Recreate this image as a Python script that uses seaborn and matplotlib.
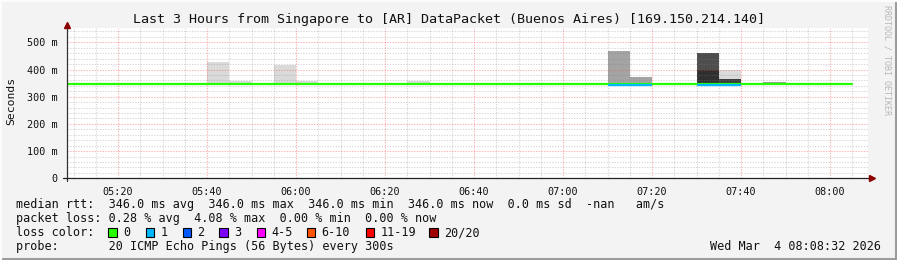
import matplotlib
matplotlib.use("Agg")
import matplotlib.pyplot as plt
from matplotlib.lines import Line2D
from matplotlib.patches import Rectangle
import seaborn as sns
import pandas as pd
import numpy as np

# ---------------- data ----------------
TITLE = "Last 3 Hours from Singapore to [AR] DataPacket (Buenos Aires) [169.150.214.140]"
view_start = "05:08:32"
view_end = "08:08:32"
x_tick_labels = ["05:20", "05:40", "06:00", "06:20", "06:40", "07:00", "07:20", "07:40", "08:00"]
y_tick_values = [0.0, 0.1, 0.2, 0.3, 0.4, 0.5]
y_tick_labels = ["0", "100 m", "200 m", "300 m", "400 m", "500 m"]

# 5-minute RRD steps (start of each step) and the median RTT (seconds) / loss count per step
bin_starts = ["05:05", "05:10", "05:15", "05:20", "05:25", "05:30", "05:35", "05:40", "05:45",
              "05:50", "05:55", "06:00", "06:05", "06:10", "06:15", "06:20", "06:25", "06:30",
              "06:35", "06:40", "06:45", "06:50", "06:55", "07:00", "07:05", "07:10", "07:15",
              "07:20", "07:25", "07:30", "07:35", "07:40", "07:45", "07:50", "07:55", "08:00"]
median_rtt = [0.346, 0.346, 0.346, 0.346, 0.346, 0.346, 0.346, 0.346, 0.346,
              0.346, 0.346, 0.346, 0.346, 0.346, 0.346, 0.346, 0.346, 0.346,
              0.346, 0.346, 0.346, 0.346, 0.346, 0.346, 0.346, 0.346, 0.346,
              0.346, 0.346, 0.346, 0.346, 0.346, 0.346, 0.346, 0.346, 0.346]
loss_count = [0, 0, 0, 0, 0, 0, 0, 0, 0,
              0, 0, 0, 0, 0, 0, 0, 0, 0,
              0, 0, 0, 0, 0, 0, 0, 1, 1,
              0, 0, 1, 1, 0, 0, 0, 0, 0]

# smoke layers (spread of the 20 pings per step)
smoke_bin = ["05:40", "05:45", "05:55", "06:00", "06:25", "07:10", "07:15",
             "07:30", "07:30", "07:35", "07:35", "07:40", "07:45"]
smoke_low = [0.346, 0.346, 0.346, 0.346, 0.346, 0.346, 0.346,
             0.400, 0.346, 0.367, 0.346, 0.346, 0.346]
smoke_high = [0.428, 0.359, 0.416, 0.359, 0.359, 0.467, 0.372,
              0.460, 0.400, 0.400, 0.367, 0.351, 0.354]
smoke_shade = ["#dadada", "#dadada", "#dadada", "#dadada", "#dadada", "#a4a4a4", "#a4a4a4",
               "#4e4e4e", "#303030", "#dadada", "#3c3c3c", "#d0d0d0", "#9a9a9a"]

loss_labels = ["0", "1", "2", "3", "4-5", "6-10", "11-19", "20/20"]
loss_colors = ["#26ff00", "#00b8ff", "#0059ff", "#7e00ff", "#ff00ff", "#ff5500", "#ff0000", "#a10000"]

legend_lines = [
    "median rtt:  346.0 ms avg  346.0 ms max  346.0 ms min  346.0 ms now  0.0 ms sd  -nan   am/s",
    "packet loss: 0.28 % avg  4.08 % max  0.00 % min  0.00 % now",
    "loss color:",
    "probe:       20 ICMP Echo Pings (56 Bytes) every 300s",
]
stamp = "Wed Mar  4 08:08:32 2026"
side_text = "RRDTOOL / TOBI OETIKER"

# ---------------- helpers ----------------
def to_min(s):
    parts = [int(p) for p in s.split(":")]
    while len(parts) < 3:
        parts.append(0)
    return parts[0] * 60 + parts[1] + parts[2] / 60.0

W, H = 897, 260
STEP = 5.0

sns.set_theme(style="white")
plt.rcParams["font.family"] = ["DejaVu Sans Mono", "DejaVu Sans"]
plt.rcParams["axes.unicode_minus"] = False

fig = plt.figure(figsize=(W / 100, H / 100), dpi=100)
fig.patch.set_facecolor("#f3f3f3")

def px(x, y):
    return x / W, 1 - y / H

ax_l, ax_r, ax_t, ax_b = 67, 868, 28.5, 178.3
ax = fig.add_axes([ax_l / W, 1 - ax_b / H, (ax_r - ax_l) / W, (ax_b - ax_t) / H])
ax.set_facecolor("white")

x0, x1 = to_min(view_start), to_min(view_end)
ax.set_xlim(x0, x1)
ax.set_ylim(0, 0.551)

# smoke
sm = pd.DataFrame({"t": [to_min(s) for s in smoke_bin], "lo": smoke_low,
                   "hi": smoke_high, "c": smoke_shade})
ax.bar(sm["t"], sm["hi"] - sm["lo"], bottom=sm["lo"], width=STEP, align="edge",
       color=sm["c"], linewidth=0, zorder=1)

# grid (semi-transparent, drawn over smoke, as rrdtool does)
MINOR_C = (0.5, 0.5, 0.5, 0.30)
MAJOR_C = (1.0, 0.25, 0.25, 0.40)
major_x = [to_min(s) for s in x_tick_labels]
minor_x = [m for m in np.arange(305, 490, 5) if x0 < m < x1 and m not in major_x]
for m in minor_x:
    ax.axvline(m, color=MINOR_C, lw=0.75, dashes=(1.3, 1.3), zorder=2)
for m in major_x:
    ax.axvline(m, color=MAJOR_C, lw=0.75, dashes=(1.3, 1.3), zorder=2)
for v in np.arange(0.02, 0.56, 0.02):
    if abs(v * 10 - round(v * 10)) > 1e-6:
        ax.axhline(v, color=MINOR_C, lw=0.75, dashes=(1.3, 1.3), zorder=2)
for v in y_tick_values[1:]:
    ax.axhline(v, color=MAJOR_C, lw=0.75, dashes=(1.3, 1.3), zorder=2)

# median line (green), loss-coloured steps on top
med = pd.DataFrame({"t": [to_min(s) for s in bin_starts], "rtt": median_rtt, "loss": loss_count})
med_line = pd.concat([med, pd.DataFrame({"t": [med["t"].iloc[-1] + STEP],
                                         "rtt": [median_rtt[-1]], "loss": [0]})])
sns.lineplot(data=med_line, x="t", y="rtt", drawstyle="steps-post", color=loss_colors[0],
             lw=1.6, ax=ax, zorder=4)
lossy = med[med["loss"] > 0]
ax.hlines(lossy["rtt"] - 0.002, lossy["t"], lossy["t"] + STEP,
          colors=[loss_colors[int(k)] for k in lossy["loss"]], lw=1.6, zorder=5)

ax.set_xlabel("")
ax.set_ylabel("")
for s in ax.spines.values():
    s.set_visible(False)
ax.set_xticks(major_x)
ax.set_xticklabels(x_tick_labels)
ax.set_xticks(minor_x, minor=True)
ax.set_yticks(y_tick_values)
ax.set_yticklabels(y_tick_labels)
ax.tick_params(axis="x", which="major", length=3, width=0.8, color="#e07070",
               labelsize=7.3, pad=3, labelcolor="#111111")
ax.tick_params(axis="x", which="minor", length=2, width=0.8, color="#c8c8c8")
ax.tick_params(axis="y", which="major", length=3, width=0.8, color="#333333",
               labelsize=7.3, pad=4, labelcolor="#111111")

# axis lines with arrows
fig.add_artist(Line2D([px(ax_l, 0)[0]] * 2, [px(0, ax_b + 3)[1], px(0, 24)[1]],
                      color="#333333", lw=0.9))
fig.add_artist(Line2D([px(ax_l - 4, 0)[0], px(872, 0)[0]], [px(0, ax_b)[1]] * 2,
                      color="#222222", lw=0.9))
fig.add_artist(Line2D([px(ax_l, 0)[0]], [px(0, 24.5)[1]], marker="^", markersize=5,
                      color="#8b0000", lw=0))
fig.add_artist(Line2D([px(871.5, 0)[0]], [px(0, ax_b)[1]], marker=">", markersize=5,
                      color="#8b0000", lw=0))

# texts
fig.text(*px(448.5, 19), TITLE, ha="center", va="center", fontsize=9.6, color="#111111")
fig.text(*px(11, 101), "Seconds", rotation=90, ha="center", va="center", fontsize=8.2,
         color="#111111")
fig.text(*px(887, 60), side_text, rotation=270, ha="center", va="center", fontsize=6.0,
         color="#b8b8b8")
rows_y = [204.5, 218.5, 232.5, 246.5]
for txt, yy in zip(legend_lines, rows_y):
    fig.text(*px(16, yy), txt, ha="left", va="center", fontsize=8.5, color="#111111")
box_x = [108.3, 145.7, 182.7, 219.3, 256.7, 306.7, 365.7, 429.0]
for bx, lab, col in zip(box_x, loss_labels, loss_colors):
    fig.add_artist(Rectangle(px(bx, rows_y[2] + 4.3), 8.6 / W, 8.6 / H, transform=fig.transFigure,
                             facecolor=col, edgecolor="#000000", lw=0.8))
    fig.text(*px(bx + 14.7, rows_y[2]), lab, ha="left", va="center", fontsize=8.5,
             color="#111111")
fig.text(*px(881, rows_y[3]), stamp, ha="right", va="center", fontsize=8.5, color="#111111")

# image frame (rrdtool-style shading)
fig.add_artist(Line2D([0, 1], [px(0, 258.5)[1]] * 2, color="#9c9c9c", lw=2.2))
fig.add_artist(Line2D([px(895.5, 0)[0]] * 2, [0, 1], color="#9c9c9c", lw=2.2))
fig.add_artist(Line2D([0, 1], [px(0, 0.5)[1]] * 2, color="#fcfcfc", lw=1.5))
fig.add_artist(Line2D([px(0.5, 0)[0]] * 2, [0, 1], color="#fcfcfc", lw=1.5))

fig.savefig("out.png", dpi=100, facecolor=fig.get_facecolor())
